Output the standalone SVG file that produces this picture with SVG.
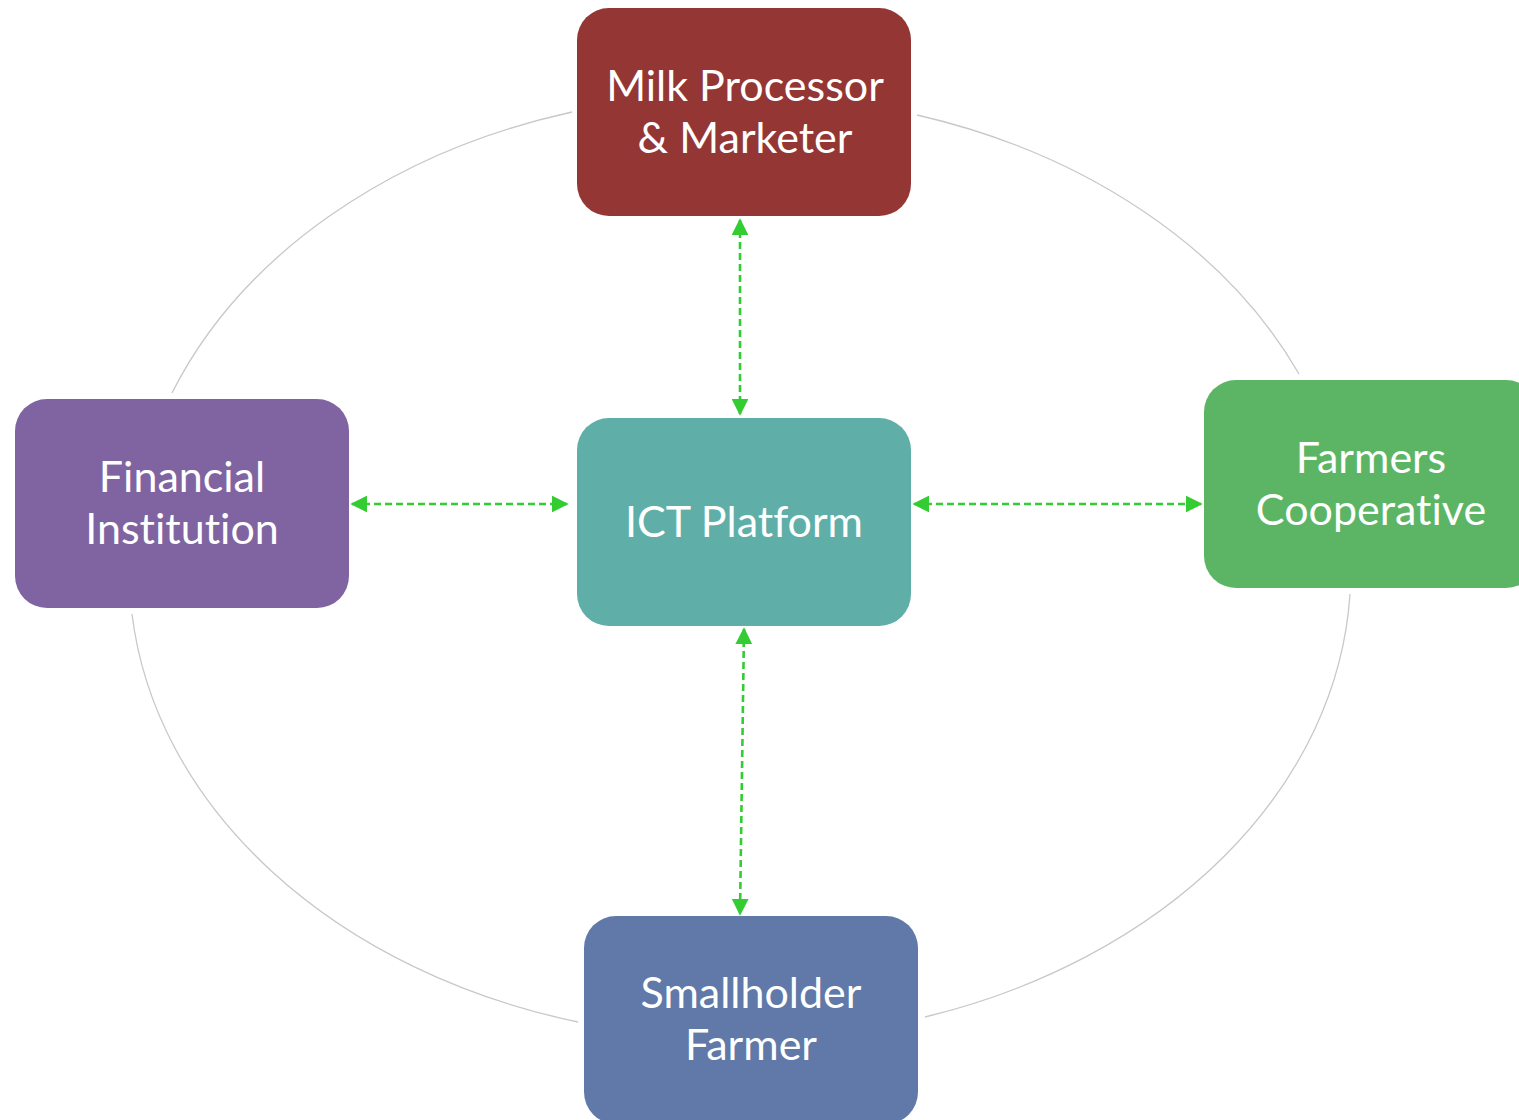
<svg xmlns="http://www.w3.org/2000/svg" width="1519" height="1120" viewBox="0 0 1519 1120">
<style>
.lbl{font-family:Lato,"Open Sans","Liberation Sans",sans-serif;font-size:43px;fill:#fff;text-anchor:middle;font-variant-ligatures:none}
.ring{fill:none;stroke:#c8c8c8;stroke-width:1.3}
.conn{fill:none;stroke:#33cc33;stroke-width:2.6;stroke-dasharray:7 4}
</style>
<defs>
<marker id="ah" viewBox="0 0 10 10" refX="9" refY="5" markerWidth="6.5" markerHeight="6.5" orient="auto-start-reverse" markerUnits="strokeWidth">
<path d="M0,0 L10,5 L0,10 z" fill="#33cc33"/>
</marker>
</defs>
<rect width="1519" height="1120" fill="#fff"/>
<g id="ring">
<path class="ring" d="M172,393 A608,468 0 0 1 572,112"/>
<path class="ring" d="M917,115 A608,468 0 0 1 1299,374"/>
<path class="ring" d="M1350,594 A608,468 0 0 1 925,1017"/>
<path class="ring" d="M578,1022 A608,468 0 0 1 132,614"/>
</g>
<g id="connectors">
<path class="conn" d="M740,220 L740,414" marker-start="url(#ah)" marker-end="url(#ah)"/>
<path class="conn" d="M352,504 L567,504" marker-start="url(#ah)" marker-end="url(#ah)"/>
<path class="conn" d="M914,504 L1201,504" marker-start="url(#ah)" marker-end="url(#ah)"/>
<path class="conn" d="M744,629 L740,914" marker-start="url(#ah)" marker-end="url(#ah)"/>
</g>
<g id="milk">
<rect x="577" y="8" width="334" height="208" rx="32" fill="#943634"/>
<text class="lbl" x="745" y="101">Milk Processor</text>
<text class="lbl" x="745" y="153">&amp; Marketer</text>
</g>
<g id="financial">
<rect x="15" y="399" width="334" height="209" rx="32" fill="#8064a2"/>
<text class="lbl" x="182" y="492">Financial</text>
<text class="lbl" x="182" y="544">Institution</text>
</g>
<g id="ict">
<rect x="577" y="418" width="334" height="208" rx="32" fill="#5fafa8"/>
<text class="lbl" x="744" y="537">ICT Platform</text>
</g>
<g id="coop">
<rect x="1204" y="380" width="334" height="208" rx="32" fill="#5cb565"/>
<text class="lbl" x="1371" y="473">Farmers</text>
<text class="lbl" x="1371" y="525">Cooperative</text>
</g>
<g id="smallholder">
<rect x="584" y="916" width="334" height="208" rx="32" fill="#6079a8"/>
<text class="lbl" x="751" y="1008">Smallholder</text>
<text class="lbl" x="751" y="1060">Farmer</text>
</g>
</svg>
